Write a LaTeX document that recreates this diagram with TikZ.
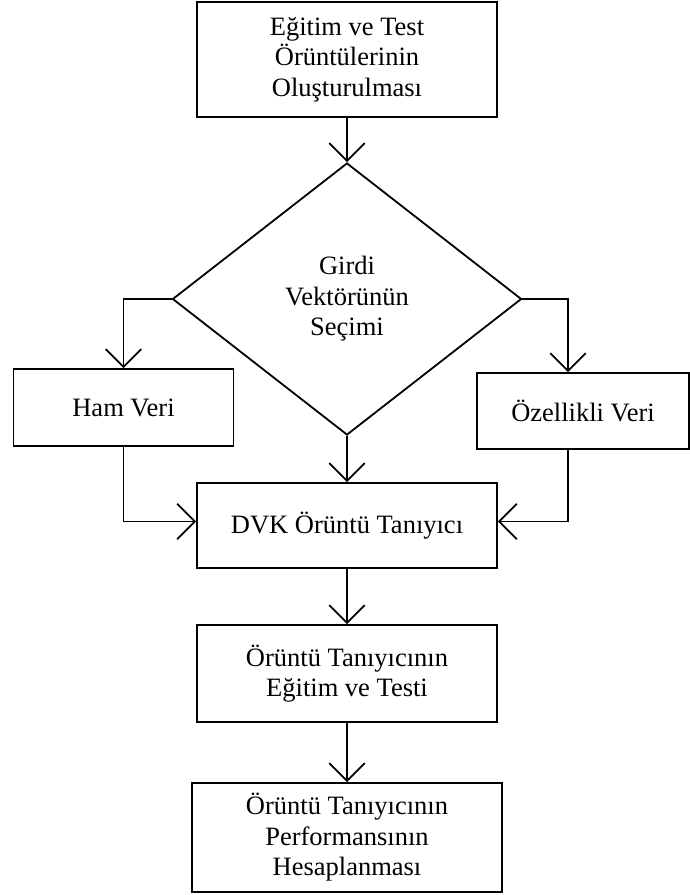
\documentclass[tikz,border=0pt]{standalone}
\usepackage{fontspec}
\setmainfont{Liberation Serif}
\usetikzlibrary{shapes.geometric, positioning, arrows.meta}

\begin{document}
\begin{tikzpicture}
	[on grid, line width=1.8pt, >={Straight Barb[angle=90:25pt]},
	 every node/.style={font=\fontsize{26.5pt}{30.5pt}\selectfont, align=center},
	 kutu/.style={draw, rectangle, inner sep=0pt},
	 karar/.style={draw, diamond, inner sep=0pt, minimum width=349pt, minimum height=272pt}]
   \useasboundingbox (0,0) rectangle (690pt,-895pt);
   \node[kutu, minimum width=300pt, minimum height=115pt] (olus) at (347pt,-59.5pt) {Eğitim ve Test\\Örüntülerinin\\Oluşturulması};
   \node[karar] (girdi) [below=239.5pt of olus] {Girdi\\Vektörünün\\Seçimi};
   \node[kutu, minimum width=220pt, minimum height=77pt] (ham) [below left=108.5pt and 223.5pt of girdi] {Ham Veri};
   \node[kutu, minimum width=212pt, minimum height=76pt] (ozel) [below right=112pt and 236pt of girdi] {Özellikli Veri};
   \node[kutu, minimum width=300pt, minimum height=85pt] (dvk) [below=226.5pt of girdi] {DVK Örüntü Tanıyıcı};
   \node[kutu, minimum width=300pt, minimum height=97pt] (egitim) [below=148pt of dvk] {Örüntü Tanıyıcının\\Eğitim ve Testi};
   \node[kutu, minimum width=310pt, minimum height=109pt] (perf) [below=164pt of egitim] {Örüntü Tanıyıcının\\Performansının\\Hesaplanması};
   \coordinate (sagust) at ([xshift=-15pt]ozel.north);
   \coordinate (sagalt) at ([xshift=-15pt]ozel.south);
    \path[->]
    (olus) edge (girdi)
    (girdi) edge (dvk)
    (dvk) edge (egitim)
    (egitim) edge (perf);
   \draw[->] (girdi.west) -| (ham.north);
   \draw[->] (girdi.east) -| (sagust);
   \draw[->] (ham.south) |- ([yshift=4pt]dvk.west);
   \draw[->] (sagalt) |- ([yshift=4pt]dvk.east);
\end{tikzpicture}
\end{document}
